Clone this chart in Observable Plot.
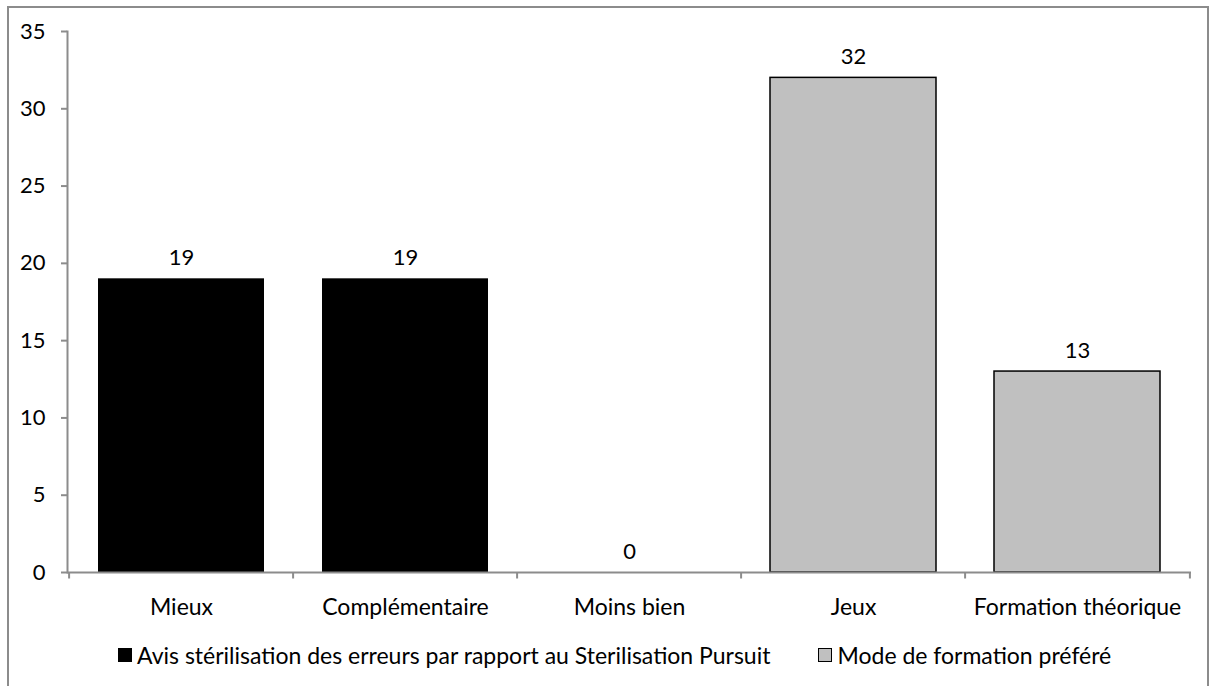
<!DOCTYPE html>
<html>
<head>
<meta charset="utf-8">
<script src="https://cdn.jsdelivr.net/npm/d3@7"></script>
<script src="https://cdn.jsdelivr.net/npm/@observablehq/plot@0.6"></script>
<style>
  html, body { margin: 0; padding: 0; background: #fff; overflow: hidden; }
  body { width: 1214px; height: 686px; position: relative; font-family: Lato, "Open Sans", sans-serif; }
  #frame { position: absolute; left: 7px; top: 6px; width: 1202px; height: 720px; border: 2px solid #8c8c8c; box-sizing: border-box; pointer-events: none; }
  #chart { position: absolute; left: 0; top: 0; }
  #legend { position: absolute; left: 118px; top: 640px; height: 30px; display: flex; align-items: center; font-size: 23px; color: #000; white-space: nowrap; }
  .sw { width: 14px; height: 14px; box-sizing: border-box; border: 1.5px solid #000; margin-right: 5px; }
  .item { display: flex; align-items: center; }
</style>
</head>
<body>
<div id="chart"></div>
<div id="legend"></div>
<div id="frame"></div>
<script>
const categories = ["Mieux", "Complémentaire", "Moins bien", "Jeux", "Formation théorique"];
const values = [19, 19, 0, 32, 13];
const seriesNames = ["Avis stérilisation des erreurs par rapport au Sterilisation Pursuit", "Mode de formation préféré"];
const seriesOf = [0, 0, 0, 1, 1];
const seriesColors = ["#000000", "#c0c0c0"];
const yTicks = [0, 5, 10, 15, 20, 25, 30, 35];

const data = categories.map((c, i) => ({ category: c, value: values[i], series: seriesNames[seriesOf[i]] }));

const W = 1214, H = 630;
const marginLeft = 67, marginRight = 23, marginTop = 31, marginBottom = 58;
const step = (W - marginLeft - marginRight) / categories.length;
const axisGray = "#8c8c8c";

const chart = Plot.plot({
  width: W,
  height: H,
  marginLeft, marginRight, marginTop, marginBottom,
  style: { fontFamily: "Lato, 'Open Sans', sans-serif", fontSize: "22px", color: "#000", background: "transparent" },
  x: { domain: categories, paddingInner: 0.26, paddingOuter: 0.13, label: null },
  y: { domain: [0, 35], label: null },
  color: { domain: seriesNames, range: seriesColors },
  marks: [
    Plot.barY(data.filter(d => d.series === seriesNames[0]), { x: "category", y: "value", fill: "series" }),
    Plot.barY(data.filter(d => d.series === seriesNames[1]), { x: "category", y: "value", fill: "series", stroke: "#000", strokeWidth: 1.5 }),
    Plot.frame({ anchor: "left", stroke: axisGray, strokeWidth: 2 }),
    Plot.ruleY([0], { stroke: axisGray, strokeWidth: 2 }),
    Plot.axisY({ ticks: yTicks, tickSize: 6, tickPadding: 16, stroke: axisGray, strokeWidth: 2, fontSize: 22, fill: "#000", label: null }),
    Plot.ruleX(categories, { x: d => d, dx: -step / 2, y1: 0, y2: -0.42, stroke: axisGray, strokeWidth: 2 }),
    Plot.ruleX(categories.slice(-1), { x: d => d, dx: step / 2, y1: 0, y2: -0.42, stroke: axisGray, strokeWidth: 2 }),
    Plot.axisX({ tickSize: 0, tickPadding: 26, fontSize: 23, fill: "#000", label: null }),
    Plot.text(data, { x: "category", y: "value", text: d => String(d.value), dy: -21, fontSize: 22, fill: "#000" })
  ]
});
document.getElementById("chart").appendChild(chart);

const legend = document.getElementById("legend");
seriesNames.forEach((name, i) => {
  const item = document.createElement("div");
  item.className = "item";
  if (i > 0) item.style.marginLeft = "48px";
  const sw = document.createElement("div");
  sw.className = "sw";
  sw.style.background = seriesColors[i];
  const label = document.createElement("span");
  label.textContent = name;
  item.appendChild(sw);
  item.appendChild(label);
  legend.appendChild(item);
});
</script>
</body>
</html>
